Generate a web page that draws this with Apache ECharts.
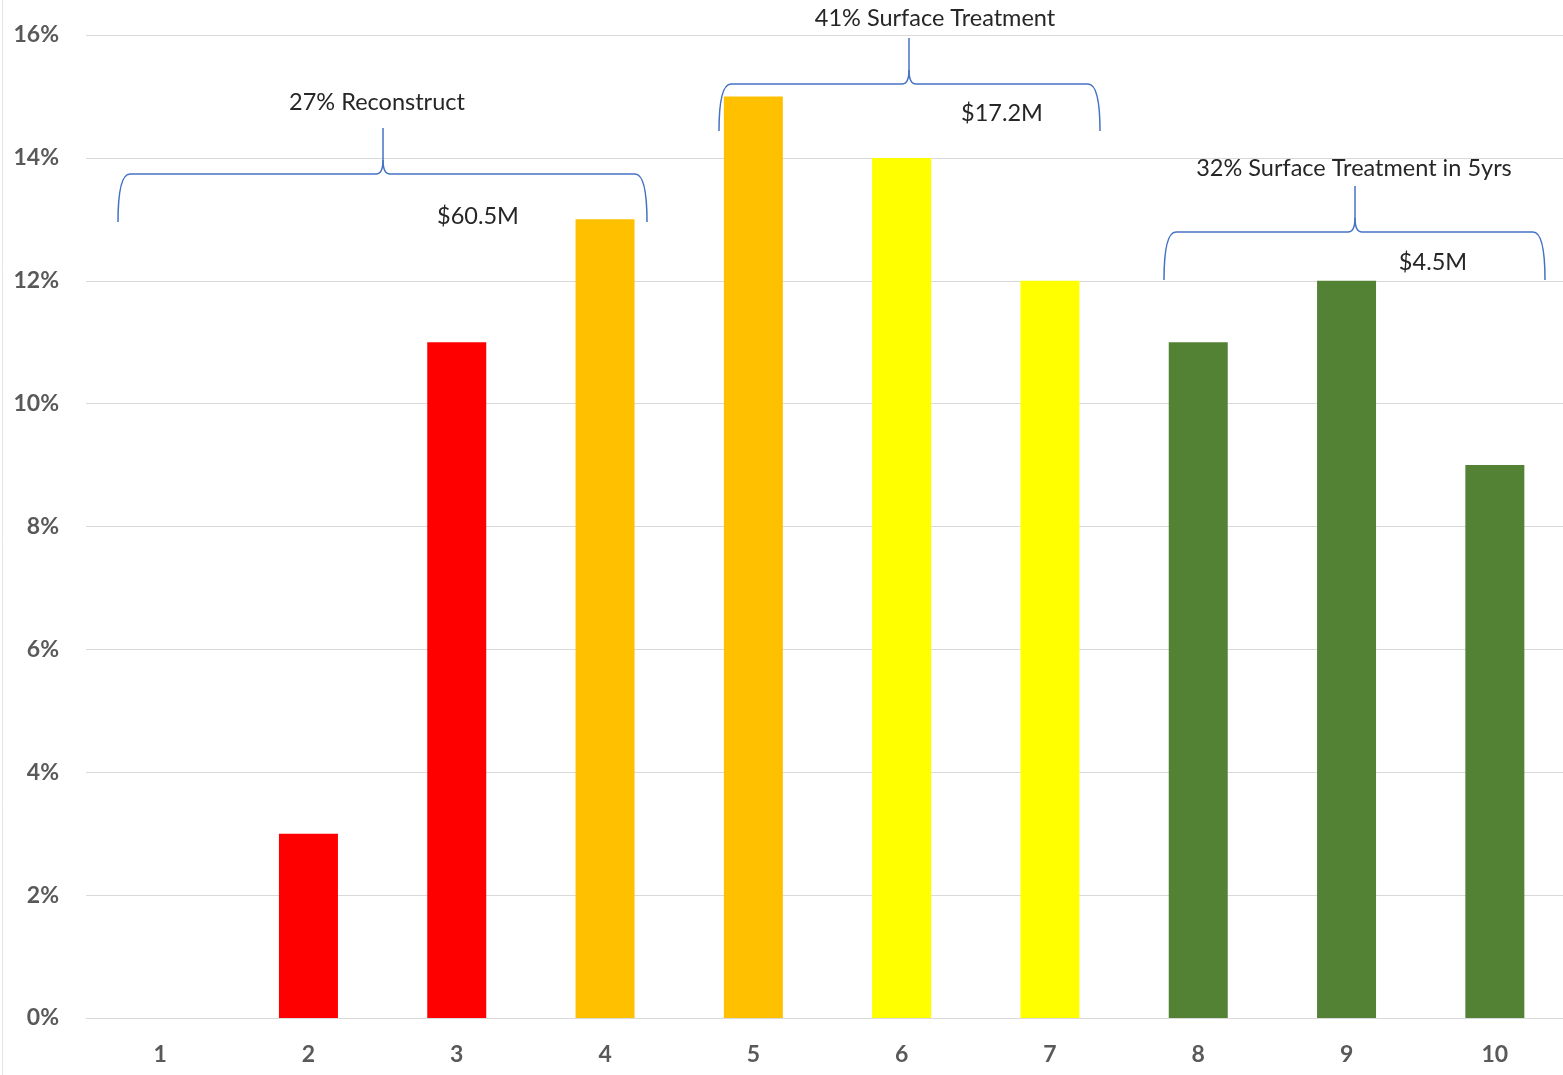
<!DOCTYPE html>
<html>
<head>
<meta charset="utf-8">
<style>
  html, body { margin: 0; padding: 0; background: #fff; }
  #chart { width: 1563px; height: 1075px; }
</style>
<script src="https://cdn.jsdelivr.net/npm/echarts@6/dist/echarts.min.js"></script>
</head>
<body>
<div id="chart"></div>
<script>
// Pavement condition rating distribution (share of network, %)
const categories = ['1', '2', '3', '4', '5', '6', '7', '8', '9', '10'];
const shares = [0, 3, 11, 13, 15, 14, 12, 11, 12, 9];
const barColors = ['#FF0000', '#FF0000', '#FF0000', '#FFC000', '#FFC000',
                   '#FFFF00', '#FFFF00', '#548235', '#548235', '#548235'];
const yTicks = [0, 2, 4, 6, 8, 10, 12, 14, 16];

// Bracketed groups: title above the brace, cost inside it
const groupTitles = ['27% Reconstruct', '41% Surface Treatment', '32% Surface Treatment in 5yrs'];
const groupCosts = ['$60.5M', '$17.2M', '$4.5M'];

const chart = echarts.init(document.getElementById('chart'));

const FONT = 'Lato, "Open Sans", sans-serif';
const BRACE_STYLE = { stroke: '#4472C4', lineWidth: 1.5, fill: 'none' };

// Curly brace built from straight runs and quadratic curves:
// ends drop to yb, horizontal run at yh, centre tip rises to yt at xt
function braceParts(x1, x2, xt, yb, yh, yt) {
  const r = 12;
  const seg = (a, b, c, d) => ({ type: 'line', shape: { x1: a, y1: b, x2: c, y2: d }, style: BRACE_STYLE, z: 10 });
  const curve = (a, b, cx, cy, c, d) => ({
    type: 'bezierCurve', shape: { x1: a, y1: b, cpx1: cx, cpy1: cy, x2: c, y2: d },
    style: BRACE_STYLE, z: 10
  });
  return [
    curve(x1, yb, x1, yh, x1 + r, yh),
    seg(x1 + r, yh, xt - 7, yh),
    curve(xt - 7, yh, xt, yh, xt, yh - 14),
    seg(xt, yh - 14, xt, yt),
    curve(xt, yh - 14, xt, yh, xt + 7, yh),
    seg(xt + 7, yh, x2 - r, yh),
    curve(x2 - r, yh, x2, yh, x2, yb)
  ];
}

const braceGeom = [
  { x1: 118, x2: 647, xt: 383, yb: 222, yh: 174, yt: 128, tx: 377, ty: 102, cx: 478, cy: 216 },
  { x1: 719, x2: 1100, xt: 909, yb: 131, yh: 84, yt: 38, tx: 935, ty: 18, cx: 1002, cy: 113 },
  { x1: 1164, x2: 1545, xt: 1355, yb: 280, yh: 232, yt: 186, tx: 1354, ty: 168, cx: 1433, cy: 262 }
];

const graphics = [
  { type: 'line', shape: { x1: 2.5, y1: 0, x2: 2.5, y2: 1075 },
    style: { stroke: '#e4e4e4', lineWidth: 1 }, silent: true }
];
braceGeom.forEach((g, i) => {
  braceParts(g.x1, g.x2, g.xt, g.yb, g.yh, g.yt).forEach(p => graphics.push(p));
  graphics.push({
    type: 'text', x: g.tx, y: g.ty,
    style: { text: groupTitles[i], font: '23.5px ' + FONT, fill: '#262626',
             textAlign: 'center', textVerticalAlign: 'middle' },
    z: 10
  });
  graphics.push({
    type: 'text', x: g.cx, y: g.cy,
    style: { text: groupCosts[i], font: '23.5px ' + FONT, fill: '#262626',
             textAlign: 'center', textVerticalAlign: 'middle' },
    z: 10
  });
});

chart.setOption({
  animation: false,
  backgroundColor: '#ffffff',
  grid: { left: 86, top: 35, width: 1483, height: 983, containLabel: false, outerBoundsMode: 'none' },
  xAxis: {
    type: 'category',
    data: categories,
    axisLine: { show: true, lineStyle: { color: '#d9d9d9', width: 1 } },
    axisTick: { show: false },
    axisLabel: { margin: 25, color: '#595959', fontSize: 23, fontWeight: 'bold', fontFamily: FONT }
  },
  yAxis: {
    type: 'value',
    min: yTicks[0],
    max: yTicks[yTicks.length - 1],
    interval: yTicks[1] - yTicks[0],
    axisLine: { show: false },
    axisTick: { show: false },
    splitLine: { lineStyle: { color: '#d9d9d9', width: 1 } },
    axisLabel: { margin: 27, color: '#595959', fontSize: 23, fontWeight: 'bold', fontFamily: FONT,
                 formatter: '{value}%' }
  },
  series: [{
    type: 'bar',
    data: shares.map((v, i) => ({ value: v, itemStyle: { color: barColors[i] } })),
    barWidth: 59
  }],
  graphic: graphics
});
</script>
</body>
</html>
